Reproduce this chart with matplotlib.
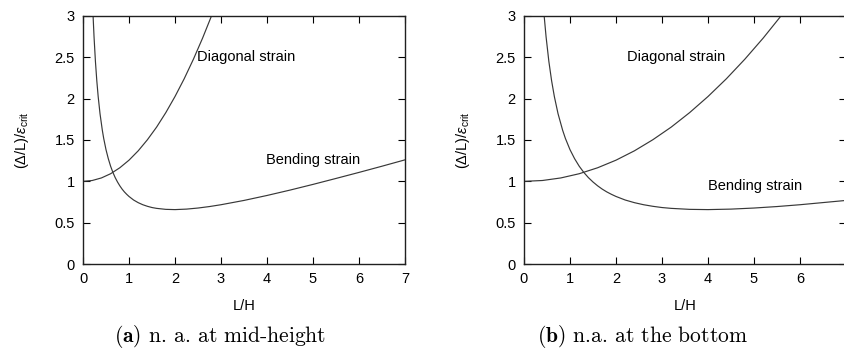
import matplotlib
matplotlib.use("Agg")
import matplotlib.pyplot as plt

# values, (L/H, (dL/L)/eps_crit)
# (a) neutral axis at mid-height
lh_bend_a = [0.22, 0.24, 0.27, 0.30, 0.33, 0.37, 0.42, 0.45, 0.50, 0.55, 0.60, 0.65,
             0.70, 0.75, 0.80, 0.85, 0.90, 0.95, 1.0, 1.1, 1.2, 1.3, 1.4, 1.5, 1.6,
             1.8, 2.0, 2.25, 2.5, 2.75, 3.0, 3.5, 4.0, 4.5, 5.0, 5.5, 6.0, 6.5, 7.0]
bend_a = [2.991, 2.748, 2.452, 2.217, 2.025, 1.818, 1.618, 1.519, 1.383, 1.274, 1.183, 1.108,
          1.045, 0.992, 0.946, 0.906, 0.872, 0.843, 0.817, 0.774, 0.742, 0.717, 0.698, 0.683, 0.673,
          0.661, 0.658, 0.664, 0.677, 0.695, 0.717, 0.769, 0.829, 0.894, 0.963, 1.035, 1.108, 1.183, 1.260]
lh_diag_a = [0.0, 0.2, 0.4, 0.6, 0.8, 1.0, 1.2, 1.4, 1.6, 1.8, 2.0, 2.2, 2.4, 2.6, 2.8]
diag_a = [1.000, 1.010, 1.041, 1.092, 1.164, 1.256, 1.369, 1.503, 1.656, 1.831, 2.026, 2.241,
          2.477, 2.733, 3.010]

# (b) neutral axis at the bottom
lh_bend_b = [0.44, 0.48, 0.54, 0.60, 0.66, 0.74, 0.84, 0.90, 1.0, 1.1, 1.2, 1.3, 1.4,
             1.5, 1.6, 1.7, 1.8, 1.9, 2.0, 2.2, 2.4, 2.6, 2.8, 3.0, 3.2, 3.6, 4.0,
             4.5, 5.0, 5.5, 6.0, 7.0]
bend_b = [2.991, 2.748, 2.452, 2.217, 2.025, 1.818, 1.618, 1.519, 1.383, 1.274, 1.183, 1.108, 1.045,
          0.992, 0.946, 0.906, 0.872, 0.843, 0.817, 0.774, 0.742, 0.717, 0.698, 0.683, 0.673, 0.661, 0.658,
          0.664, 0.677, 0.695, 0.717, 0.769]
lh_diag_b = [0.0, 0.4, 0.8, 1.2, 1.6, 2.0, 2.4, 2.8, 3.2, 3.6, 4.0, 4.4, 4.8, 5.2, 5.6]
diag_b = [1.000, 1.010, 1.041, 1.092, 1.164, 1.256, 1.369, 1.503, 1.656, 1.831, 2.026, 2.241,
          2.477, 2.733, 3.010]

captions = [r"$\mathbf{(a)}$ n. a. at mid-height", r"$\mathbf{(b)}$ n.a. at the bottom"]

plt.rcParams['font.family'] = ['Liberation Sans', 'DejaVu Sans']
plt.rcParams['mathtext.fontset'] = 'custom'
plt.rcParams['mathtext.rm'] = 'Liberation Sans'
plt.rcParams['mathtext.it'] = 'Liberation Sans:italic'

fig = plt.figure(figsize=(8.44, 3.49), dpi=100)
ax_a = fig.add_axes([83 / 844, 85 / 349, 322 / 844, 248 / 349])
ax_b = fig.add_axes([524 / 844, 85 / 349, 322 / 844, 248 / 349])

panels = [
    (ax_a, lh_bend_a, bend_a, lh_diag_a, diag_a, (2.48, 2.5), (3.98, 1.26), [0, 1, 2, 3, 4, 5, 6, 7]),
    (ax_b, lh_bend_b, bend_b, lh_diag_b, diag_b, (2.24, 2.5), (4.0, 0.94), [0, 1, 2, 3, 4, 5, 6]),
]

for ax, xb, yb, xd, yd, pos_d, pos_b, xt in panels:
    ax.plot(xb, yb, color='#383838', lw=0.85)
    ax.plot(xd, yd, color='#383838', lw=0.85)
    ax.set_xlim(0, 7)
    ax.set_ylim(0, 3)
    ax.set_xticks(xt)
    ax.set_xticklabels([str(v) for v in xt])
    ax.set_yticks([0, 0.5, 1, 1.5, 2, 2.5, 3])
    ax.set_yticklabels(['0', '0.5', '1', '1.5', '2', '2.5', '3'])
    ax.tick_params(direction='in', length=5, width=0.8, top=True, right=True,
                   labelsize=10.5, pad=6)
    for sp in ax.spines.values():
        sp.set_linewidth(1.0)
        sp.set_color('#202020')
    ax.text(pos_d[0], pos_d[1], 'Diagonal strain', fontsize=10.5, va='center', ha='left')
    ax.text(pos_b[0], pos_b[1], 'Bending strain', fontsize=10.5, va='center', ha='left')
    ax.set_xlabel('L/H', fontsize=10.5, labelpad=9)
    ax.set_ylabel(r'$\mathrm{(\Delta/L)/}\varepsilon_{\mathrm{crit}}$', fontsize=10.5, labelpad=17)

fig.text(220 / 844, 1 - 337 / 349, captions[0], fontsize=15.5, family='cmr10',
         math_fontfamily='cm', ha='center', va='center')
fig.text(642 / 844, 1 - 337 / 349, captions[1], fontsize=15.5, family='cmr10',
         math_fontfamily='cm', ha='center', va='center')

fig.savefig('out.png', dpi=100)
